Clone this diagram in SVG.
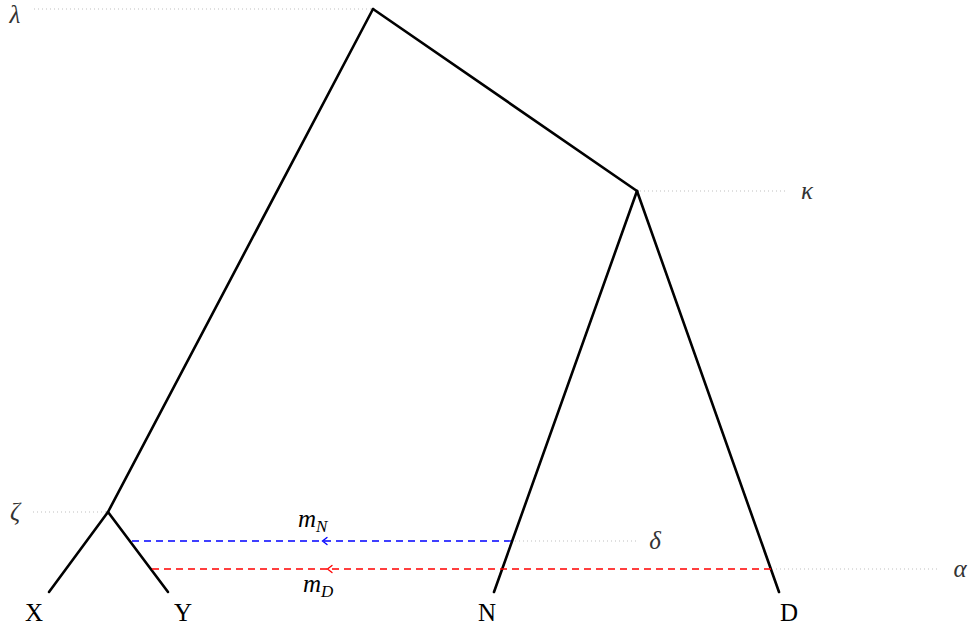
<svg xmlns="http://www.w3.org/2000/svg" width="974" height="634" viewBox="0 0 974 634">
<style>
.tree{stroke:#000;stroke-width:2.6;fill:none;stroke-linecap:round}
.dot{stroke:#999;stroke-width:0.8;stroke-dasharray:0.8 3.2;fill:none}
.mig{stroke-width:1.3;stroke-dasharray:7 5;fill:none}
.lbl{font-family:"Liberation Serif","DejaVu Serif",serif;font-size:25px;fill:#000}
.gk{font-family:"Liberation Serif","DejaVu Serif",serif;font-size:25px;font-style:italic;fill:#333}
.arr{fill:none;stroke-width:1.3;stroke-linecap:round}
</style>
<rect width="974" height="634" fill="#fff"/>
<g id="guides">
<line class="dot" x1="34" y1="9" x2="371" y2="9"/>
<line class="dot" x1="640" y1="191" x2="788" y2="191"/>
<line class="dot" x1="33" y1="512" x2="106" y2="512"/>
<line class="dot" x1="515" y1="541" x2="638" y2="541"/>
<line class="dot" x1="776" y1="569" x2="940" y2="569"/>
</g>
<g id="connectors">
<g id="edge-lambda-zeta"><line class="tree" x1="373" y1="9" x2="108" y2="512"/></g>
<g id="edge-lambda-kappa"><line class="tree" x1="373" y1="9" x2="637" y2="191"/></g>
<g id="edge-zeta-X"><line class="tree" x1="108" y1="512" x2="49" y2="592"/></g>
<g id="edge-zeta-Y"><line class="tree" x1="108" y1="512" x2="168" y2="592"/></g>
<g id="edge-kappa-N"><line class="tree" x1="637" y1="191" x2="494" y2="592"/></g>
<g id="edge-kappa-D"><line class="tree" x1="637" y1="191" x2="779" y2="592"/></g>
<g id="mig-N">
<line class="mig" stroke="#00f" x1="511" y1="541" x2="130" y2="541"/>
<path class="arr" stroke="#00f" d="M327,537.5 L322.5,541 L327,544.5"/>
</g>
<g id="mig-D">
<line class="mig" stroke="#f00" x1="771" y1="569" x2="151" y2="569"/>
<path class="arr" stroke="#f00" d="M332,565.5 L327.5,569 L332,572.5"/>
</g>
</g>
<g id="node-lambda"><text class="gk" x="15" y="23" text-anchor="middle">λ</text></g>
<g id="node-kappa"><text class="gk" x="807" y="199" text-anchor="middle">κ</text></g>
<g id="node-zeta"><text class="gk" x="15" y="520" text-anchor="middle">ζ</text></g>
<g id="node-delta"><text class="gk" x="655" y="549" text-anchor="middle">δ</text></g>
<g id="node-alpha"><text class="gk" x="960" y="577" text-anchor="middle">α</text></g>
<g id="node-X"><text class="lbl" x="34" y="621" text-anchor="middle">X</text></g>
<g id="node-Y"><text class="lbl" x="183" y="621" text-anchor="middle">Y</text></g>
<g id="node-N"><text class="lbl" x="487" y="621" text-anchor="middle">N</text></g>
<g id="node-D"><text class="lbl" x="789" y="621" text-anchor="middle">D</text></g>
<g id="label-mN"><text class="lbl" x="298" y="527" font-style="italic">m<tspan font-size="17" dy="5">N</tspan></text></g>
<g id="label-mD"><text class="lbl" x="303" y="592" font-style="italic">m<tspan font-size="17" dy="5">D</tspan></text></g>
</svg>
